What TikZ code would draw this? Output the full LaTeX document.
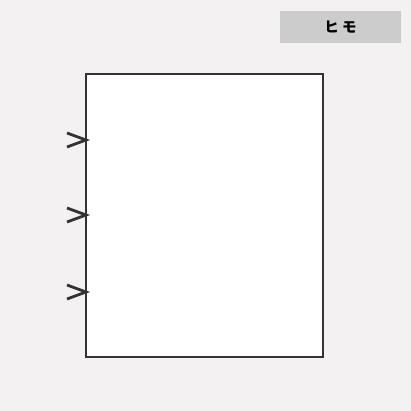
\documentclass[tikz,border=0pt]{standalone}
\usepackage{fontspec}
\usetikzlibrary{calc}
\newfontfamily\cjk{Noto Sans CJK JP}
\definecolor{bgc}{HTML}{F3F1F1}
\definecolor{lbl}{HTML}{CCCCCC}
\definecolor{ink}{HTML}{333333}
\tikzset{
  panel/.style={draw=ink, line width=1.8pt, fill=white, inner sep=0pt, outer sep=0pt},
  tag/.style={fill=lbl, inner sep=0pt, font=\cjk\bfseries\fontsize{14.5pt}{16pt}\selectfont, text=black},
  chev/.style={draw=ink, line width=2.8pt, line cap=butt, line join=miter}
}
\begin{document}
\begin{tikzpicture}[x=1pt,y=-1pt]
\path[fill=bgc] (0,0) rectangle (411,411);
\useasboundingbox (0,0) rectangle (411,411);
\node[panel, minimum width=237pt, minimum height=283pt, anchor=north west] (box) at (86,74) {};
\node[tag, minimum width=121pt, minimum height=32pt] (label) at (340.5,27) {ヒ モ};
\coordinate (c1) at (box.west |- 0,140);
\coordinate (c2) at (box.west |- 0,215);
\coordinate (c3) at (box.west |- 0,292);
\foreach \c in {c1,c2,c3}{
  \draw[chev] ($(\c)+(-19,-7)$) -- (\c) -- ($(\c)+(-19,7)$);
}
\end{tikzpicture}
\end{document}
